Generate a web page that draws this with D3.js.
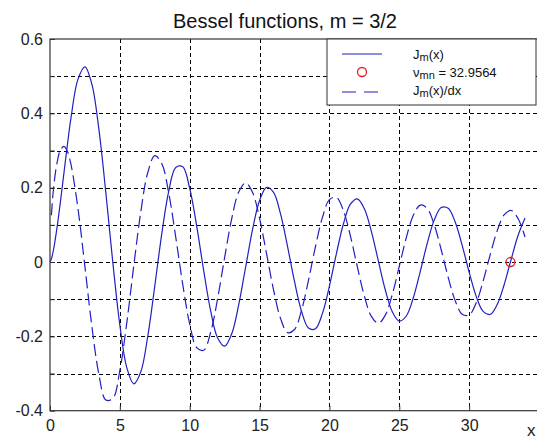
<!DOCTYPE html>
<html><head><meta charset="utf-8">
<script src="https://cdn.jsdelivr.net/npm/d3@7"></script>
<style>body{margin:0;background:#fff;overflow:hidden} svg{display:block}</style>
</head><body><svg id="c" width="537" height="439"></svg>
<script>
// ---- data ----
const xValues = [0,0.1,0.25,0.5,0.75,1,1.25,1.5,2,2.5,3,3.5,4,4.5,5,5.5,6,6.5,7,7.5,8,8.5,9,9.5,10,10.5,11,11.5,12,12.5,13,13.5,14,14.5,15,15.5,16,16.5,17,17.5,18,18.5,19,19.5,20,20.5,21,21.5,22,22.5,23,23.5,24,24.5,25,25.5,26,26.5,27,27.5,28,28.5,29,29.5,30,30.5,31,31.5,32,32.5,33,33.5,34];
const besselJ = [0,0.0084,0.0330,0.0917,0.1632,0.2403,0.3168,0.3872,0.4913,0.5250,0.4777,0.3567,0.1853,-0.0024,-0.1697,-0.2847,-0.3279,-0.2953,-0.1991,-0.0645,0.0759,0.1905,0.2545,0.2561,0.1980,0.0964,-0.0229,-0.1316,-0.2046,-0.2264,-0.1937,-0.1163,-0.0141,0.0879,0.1654,0.2010,0.1875,0.1295,0.0423,-0.0524,-0.1320,-0.1777,-0.1795,-0.1382,-0.0647,0.0226,0.1023,0.1555,0.1700,0.1432,0.0826,0.0032,-0.0752,-0.1339,-0.1590,-0.1452,-0.0967,-0.0256,0.0503,0.1127,0.1466,0.1445,0.1075,0.0450,-0.0273,-0.0917,-0.1329,-0.1413,-0.1152,-0.0617,0.0061,0.0712,0.1182];
const besselDJ = [null,0.1259,0.1966,0.2659,0.3016,0.3110,0.2971,0.2627,0.1446,-0.0130,-0.1739,-0.3025,-0.3714,-0.3669,-0.2912,-0.1623,-0.0090,0.1355,0.2408,0.2861,0.2649,0.1849,0.0672,-0.0599,-0.1669,-0.2303,-0.2375,-0.1889,-0.0980,0.0122,0.1153,0.1875,0.2127,0.1868,0.1174,0.0224,-0.0750,-0.1516,-0.1898,-0.1816,-0.1303,-0.0491,0.0416,0.1200,0.1677,0.1740,0.1384,0.0703,-0.0131,-0.0915,-0.1462,-0.1645,-0.1428,-0.0871,-0.0116,0.0653,0.1249,0.1532,0.1441,0.1003,0.0330,-0.0411,-0.1039,-0.1405,-0.1426,-0.1102,-0.0515,0.0187,0.0831,0.1266,0.1386,0.1170,0.0672];
const zeroX = [32.9564];
const zeroY = [0];
const xTicks = [0,5,10,15,20,25,30,35];
const xTickLabels = ['0','5','10','15','20','25','30',''];
const yTicks = [-0.4,-0.3,-0.2,-0.1,0,0.1,0.2,0.3,0.4,0.5,0.6];
const yTickLabels = ['-0.4','','-0.2','','0','','0.2','','0.4','','0.6'];
const titleText = 'Bessel functions, m = 3/2';
const xAxisLabel = 'x';
const legendZero = '32.9564';

// ---- layout ----
const L = 50, R = 539, T = 39, B = 410.7;
const lineColor = '#2020c0';
const svg = d3.select('#c');
const x = d3.scaleLinear().domain([0,35]).range([L,R]);
const y = d3.scaleLinear().domain([-0.4,0.6]).range([B,T]);

// grid
const grid = svg.append('g');
grid.selectAll('line.gx').data(xTicks.filter(v => v > 0 && v < 35)).enter().append('line')
  .attr('x1', d => Math.round(x(d)) + 0.5).attr('x2', d => Math.round(x(d)) + 0.5).attr('y1', T).attr('y2', B)
  .attr('stroke', '#000').attr('stroke-width', 1).attr('stroke-dasharray', '4,3');
grid.selectAll('line.gy').data(yTicks.filter(v => v > -0.4 && v < 0.6)).enter().append('line')
  .attr('x1', L).attr('x2', R).attr('y1', d => Math.round(y(d)) + 0.5).attr('y2', d => Math.round(y(d)) + 0.5)
  .attr('stroke', '#000').attr('stroke-width', 1).attr('stroke-dasharray', '4,3');

// axes with D3
const fontFam = '"Liberation Sans", Arial, sans-serif';
const ax = svg.append('g').attr('transform', `translate(${L},0)`)
  .call(d3.axisLeft(y).tickValues(yTicks).tickSize(-5).tickPadding(7)
    .tickFormat((d, i) => yTickLabels[i]));
const bx = svg.append('g').attr('transform', `translate(0,${B})`)
  .call(d3.axisBottom(x).tickValues(xTicks).tickSize(-5).tickPadding(9)
    .tickFormat((d, i) => xTickLabels[i]));
[ax, bx].forEach(g => {
  g.select('.domain').remove();
  g.selectAll('line').attr('stroke', '#333');
  g.selectAll('text').attr('fill', '#222').style('font-family', fontFam).style('font-size', '16px');
});
// border
svg.append('rect').attr('x', L).attr('y', T).attr('width', R - L).attr('height', B - T)
  .attr('fill', 'none').attr('stroke', '#333').attr('stroke-width', 1.2);

// curves
const pts = (vals) => xValues.map((v, i) => [v, vals[i]]);
const line = d3.line().defined(d => d[1] !== null)
  .x(d => x(d[0])).y(d => y(d[1])).curve(d3.curveCatmullRom.alpha(0.5));
svg.append('path').attr('d', line(pts(besselJ))).attr('fill', 'none')
  .attr('stroke', lineColor).attr('stroke-width', 1.2);
svg.append('path').attr('d', line(pts(besselDJ))).attr('fill', 'none')
  .attr('stroke', lineColor).attr('stroke-width', 1.2).attr('stroke-dasharray', '12,5');
svg.selectAll('circle.z').data(zeroX).enter().append('circle')
  .attr('cx', d => x(d)).attr('cy', (d, i) => y(zeroY[i])).attr('r', 4.5)
  .attr('fill', 'none').attr('stroke', '#e02020').attr('stroke-width', 1.3);

// title
svg.append('text').attr('x', 285).attr('y', 28).attr('text-anchor', 'middle')
  .style('font-family', fontFam).style('font-size', '20px').attr('fill', '#111').text(titleText);
// x label
svg.append('text').attr('x', 527).attr('y', 436)
  .style('font-family', fontFam).style('font-size', '17px').attr('fill', '#222').text(xAxisLabel);

// legend
const lg = svg.append('g');
lg.append('rect').attr('x', 327).attr('y', T).attr('width', 209).attr('height', 66)
  .attr('fill', '#fff').attr('stroke', '#333').attr('stroke-width', 1);
lg.append('line').attr('x1', 342).attr('x2', 382).attr('y1', 54).attr('y2', 54)
  .attr('stroke', lineColor).attr('stroke-width', 1.2);
lg.append('circle').attr('cx', 362).attr('cy', 72).attr('r', 4.5)
  .attr('fill', 'none').attr('stroke', '#e02020').attr('stroke-width', 1.3);
lg.append('line').attr('x1', 342).attr('x2', 382).attr('y1', 92).attr('y2', 92)
  .attr('stroke', lineColor).attr('stroke-width', 1.2).attr('stroke-dasharray', '14,8');
const lt = (yy) => lg.append('text').attr('x', 413).attr('y', yy)
  .style('font-family', fontFam).style('font-size', '13px').attr('fill', '#111');
let t1 = lt(59);
t1.append('tspan').text('J');
t1.append('tspan').attr('dy', 2).style('font-size', '11px').text('m');
t1.append('tspan').attr('dy', -2).text('(x)');
let t2 = lt(77);
t2.append('tspan').text('\u03BD');
t2.append('tspan').attr('dy', 2).style('font-size', '11px').text('mn');
t2.append('tspan').attr('dy', -2).text(' = ' + legendZero);
let t3 = lt(95);
t3.append('tspan').text('J');
t3.append('tspan').attr('dy', 2).style('font-size', '11px').text('m');
t3.append('tspan').attr('dy', -2).text('(x)/dx');
</script></body></html>
